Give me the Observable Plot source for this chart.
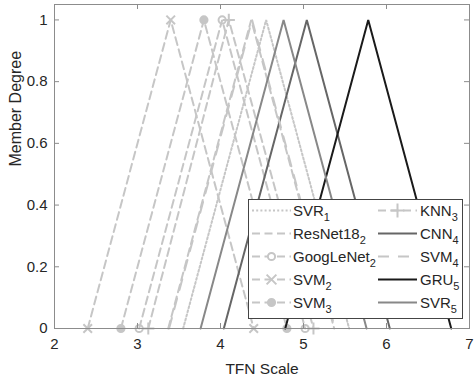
<!DOCTYPE html>
<html><head><meta charset="utf-8">
<script src="https://cdn.jsdelivr.net/npm/d3@7"></script>
<script src="https://cdn.jsdelivr.net/npm/@observablehq/plot@0.6"></script>
<style>
body{margin:0;background:#fff}
#chart{position:relative;width:474px;height:379px}
</style>
</head><body><div id="chart"></div>
<script>
// Series names (base + subscript) in plotting / legend order
const names = ["SVR", "ResNet18", "GoogLeNet", "SVM", "SVM", "KNN", "CNN", "SVM", "GRU", "SVR"];
const subs  = ["1", "2", "2", "2", "3", "3", "4", "4", "5", "5"];
// Triangular fuzzy numbers (lower, peak, upper)
const lower = [3.55, 3.37, 3.02, 2.40, 2.80, 3.13, 4.04, 3.38, 4.78, 3.76];
const peak  = [4.55, 4.37, 4.02, 3.40, 3.80, 4.10, 5.04, 4.38, 5.78, 4.76];
const upper = [5.55, 5.37, 5.02, 4.40, 4.80, 5.12, 6.04, 5.38, 6.78, 5.76];
const xTicks = [2, 3, 4, 5, 6, 7];
const yTicks = [0, 0.2, 0.4, 0.6, 0.8, 1];

// styles
const LG = "#c6c6c6";
const styles = [
  {stroke: LG, dash: "2,2.2", marker: null},
  {stroke: LG, dash: "8,4.5", marker: null},
  {stroke: LG, dash: "8,4.5", marker: "circle-open"},
  {stroke: LG, dash: "8,4.5", marker: "times"},
  {stroke: LG, dash: "8,4.5", marker: "circle"},
  {stroke: LG, dash: "8,4.5", marker: "plus"},
  {stroke: "#666666", dash: null, marker: null},
  {stroke: LG, dash: "11,9", marker: null},
  {stroke: "#1a1a1a", dash: null, marker: null},
  {stroke: "#888888", dash: null, marker: null}
];

const W = 474, H = 379, mL = 54, mR = 5, mT = 4, mB = 51;
const fw = W - mL - mR, fh = H - mT - mB;
const axisColor = "#8c8c8c";
const textColor = "#262626";
const FONT = "'Liberation Sans', Arial, Helvetica, sans-serif";

const series = names.map((n, i) => ({
  i,
  pts: [
    {x: lower[i], y: 0},
    {x: peak[i], y: 1},
    {x: upper[i], y: 0}
  ]
}));

const marks = [];
series.forEach(s => {
  const st = styles[s.i];
  marks.push(Plot.line(s.pts, {x: "x", y: "y", stroke: st.stroke, strokeWidth: 2,
    strokeDasharray: st.dash || undefined, strokeLinejoin: "miter"}));
  if (st.marker) {
    const sym = st.marker === "circle-open" ? "circle" : st.marker;
    const filled = st.marker === "circle";
    marks.push(Plot.dot(s.pts, {x: "x", y: "y", symbol: sym, r: st.marker === "times" || st.marker === "plus" ? 4 : 3.6,
      stroke: st.stroke, strokeWidth: 2, fill: filled ? st.stroke : "none"}));
  }
});

const chart = Plot.plot({
  width: W, height: H,
  marginLeft: mL, marginRight: mR, marginTop: mT, marginBottom: mB,
  style: {fontFamily: FONT, fontSize: "14px", color: textColor, background: "#fff", overflow: "visible"},
  x: {domain: [2, 7]},
  y: {domain: [0, 1.05]},
  marks: [
    ...marks,
    Plot.frame({stroke: axisColor, strokeWidth: 1}),
    Plot.tickX(xTicks, {x: d => d, insetTop: fh - 5, stroke: axisColor}),
    Plot.tickX(xTicks, {x: d => d, insetBottom: fh - 5, stroke: axisColor}),
    Plot.tickY(yTicks, {y: d => d, insetRight: fw - 5, stroke: axisColor}),
    Plot.tickY(yTicks, {y: d => d, insetLeft: fw - 5, stroke: axisColor}),
    Plot.axisX({ticks: xTicks, tickSize: 0, tickPadding: 10, fill: textColor, fontSize: 15, tickFormat: d => String(d),
      label: null}),
    Plot.axisY({ticks: yTicks, tickSize: 0, tickPadding: 7, fill: textColor, fontSize: 15, tickFormat: d => String(d),
      label: null}),
    Plot.text(["TFN Scale"], {frameAnchor: "bottom", dy: 45, text: d => d, fontSize: 15.5, fill: textColor, lineAnchor: "bottom"}),
    Plot.text(["Member Degree"], {frameAnchor: "left", dx: -39, rotate: -90, text: d => d, fontSize: 16, fill: textColor})
  ]
});
document.getElementById("chart").appendChild(chart);

// Legend inside the axes (lower right)
const svg = d3.select(chart);
const box = {x: 248, y: 199, w: 214, h: 119};
const g = svg.append("g").attr("font-family", FONT).attr("font-size", 15)
  .attr("fill", textColor).attr("text-anchor", "start");
g.append("rect").attr("x", box.x + 0.5).attr("y", box.y + 0.5).attr("width", box.w).attr("height", box.h)
  .attr("fill", "#fff").attr("stroke", "#444").attr("stroke-width", 1);
const rowH = 23, row0 = box.y + 11.5;
const cols = [{lx: box.x + 4, tx: box.x + 45}, {lx: box.x + 130, tx: box.x + 172}];
const lineLen = 39;
names.forEach((n, i) => {
  const c = cols[Math.floor(i / 5)];
  const cy = row0 + (i % 5) * rowH;
  const st = styles[i];
  g.append("line").attr("x1", c.lx).attr("x2", c.lx + lineLen).attr("y1", cy).attr("y2", cy)
    .attr("stroke", st.stroke).attr("stroke-width", 2).attr("stroke-dasharray", st.dash || null);
  if (st.marker) {
    const mx = c.lx + lineLen / 2;
    const type = st.marker === "times" ? d3.symbolTimes : st.marker === "plus" ? d3.symbolPlus : d3.symbolCircle;
    const size = st.marker.startsWith("circle") ? Math.PI * 3.6 * 3.6 : 64;
    g.append("path").attr("d", d3.symbol(type, size)()).attr("transform", `translate(${mx},${cy})`)
      .attr("stroke", st.stroke).attr("stroke-width", 2)
      .attr("fill", st.marker === "circle" ? st.stroke : (st.marker === "circle-open" ? "#fff" : "none"));
  }
  const t = g.append("text").attr("x", c.tx).attr("y", cy + 5);
  t.append("tspan").text(n);
  t.append("tspan").attr("font-size", 11).attr("dy", 5).text(subs[i]);
});
</script>
</body></html>
